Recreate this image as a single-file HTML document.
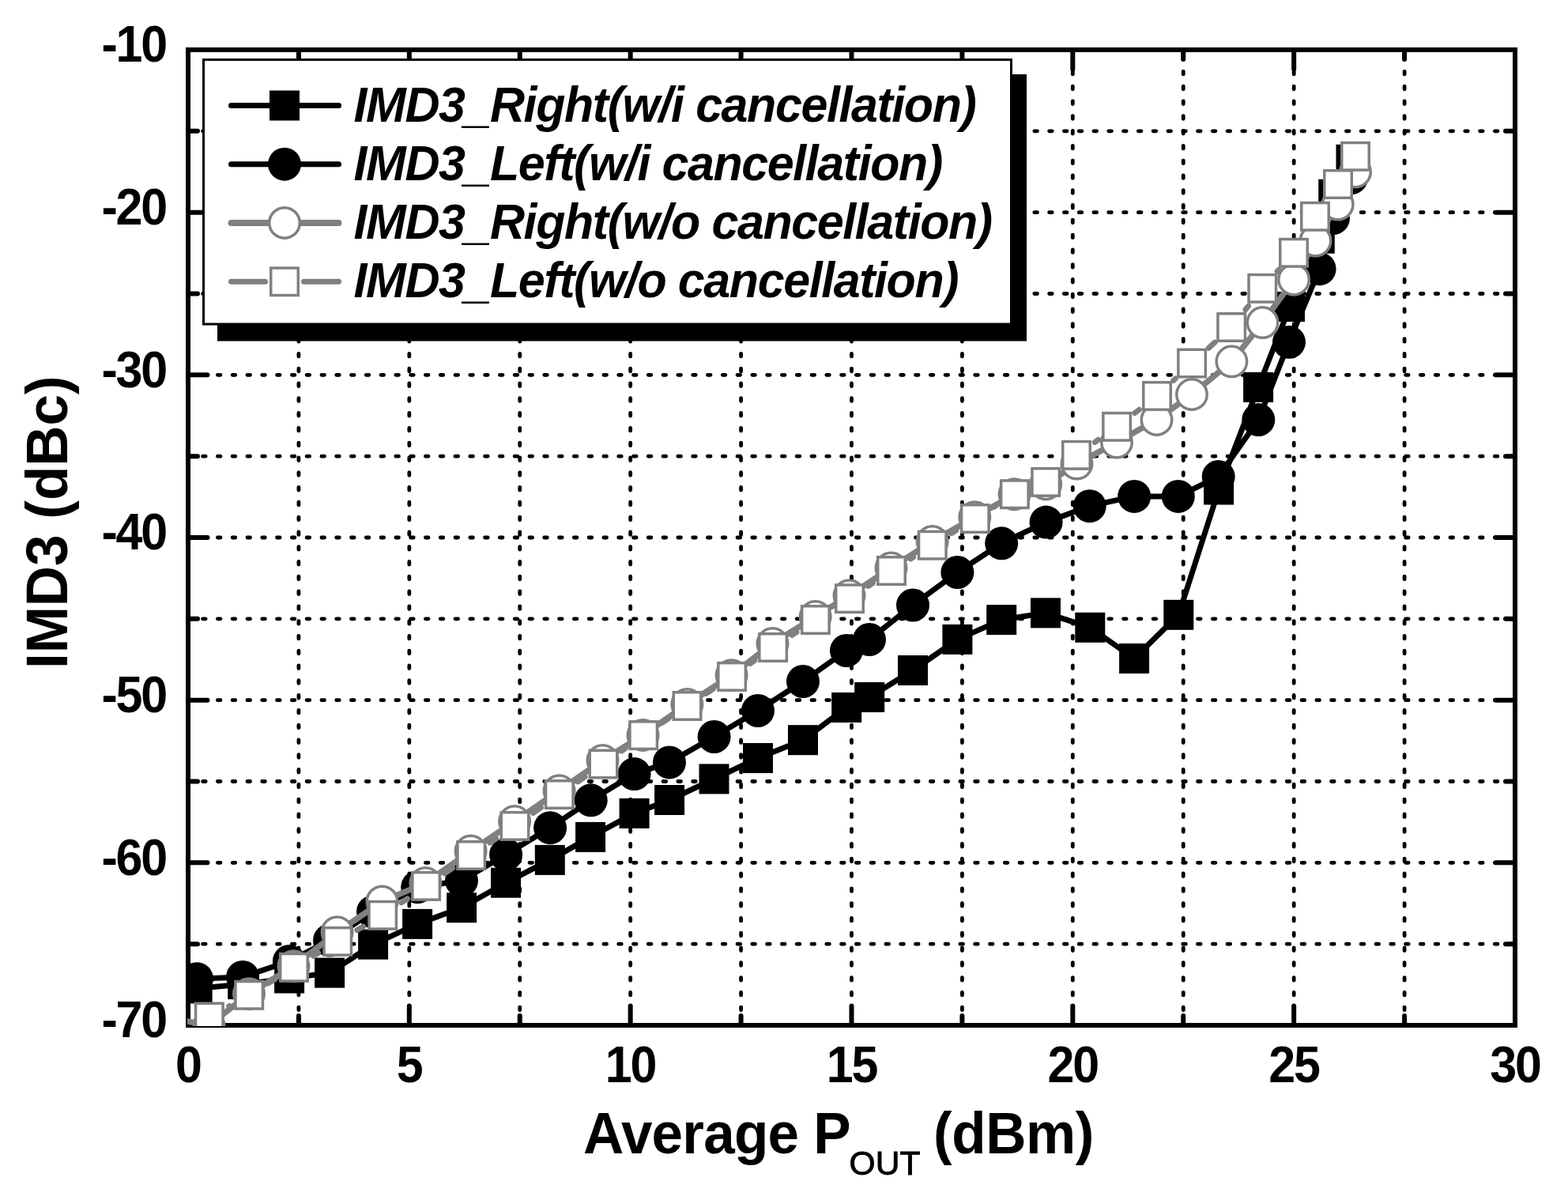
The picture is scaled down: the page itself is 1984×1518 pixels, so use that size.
<!DOCTYPE html>
<html lang="en"><head><meta charset="utf-8"><title>IMD3 vs Average POUT</title>
<style>html,body{margin:0;padding:0;background:#fff}body{width:1984px;height:1518px;overflow:hidden}svg{display:block}text{font-family:'Liberation Sans', Arial, Helvetica, sans-serif;fill:#000}</style></head><body>
<svg width="1984" height="1518" viewBox="0 0 1984 1518">
<rect x="0" y="0" width="1984" height="1518" fill="#fff"/>
<defs><clipPath id="plotclip"><rect x="237" y="62" width="1681" height="1236"/></clipPath></defs>
<g stroke="#000" stroke-width="4.8" stroke-linecap="round" stroke-dasharray="3.6 15.19" fill="none">
<line x1="377.92" y1="1296.5" x2="377.92" y2="63"/>
<line x1="517.83" y1="1296.5" x2="517.83" y2="63"/>
<line x1="657.75" y1="1296.5" x2="657.75" y2="63"/>
<line x1="797.67" y1="1296.5" x2="797.67" y2="63"/>
<line x1="937.58" y1="1296.5" x2="937.58" y2="63"/>
<line x1="1077.5" y1="1296.5" x2="1077.5" y2="63"/>
<line x1="1217.42" y1="1296.5" x2="1217.42" y2="63"/>
<line x1="1357.33" y1="1296.5" x2="1357.33" y2="63"/>
<line x1="1497.25" y1="1296.5" x2="1497.25" y2="63"/>
<line x1="1637.17" y1="1296.5" x2="1637.17" y2="63"/>
<line x1="1777.08" y1="1296.5" x2="1777.08" y2="63"/>
<line x1="237.8" y1="165.83" x2="1917" y2="165.83"/>
<line x1="237.8" y1="268.67" x2="1917" y2="268.67"/>
<line x1="237.8" y1="371.5" x2="1917" y2="371.5"/>
<line x1="237.8" y1="474.33" x2="1917" y2="474.33"/>
<line x1="237.8" y1="577.17" x2="1917" y2="577.17"/>
<line x1="237.8" y1="680" x2="1917" y2="680"/>
<line x1="237.8" y1="782.83" x2="1917" y2="782.83"/>
<line x1="237.8" y1="885.67" x2="1917" y2="885.67"/>
<line x1="237.8" y1="988.5" x2="1917" y2="988.5"/>
<line x1="237.8" y1="1091.33" x2="1917" y2="1091.33"/>
<line x1="237.8" y1="1194.17" x2="1917" y2="1194.17"/>
</g>
<g stroke="#000" stroke-width="6" stroke-linecap="round" fill="none">
<line x1="377.92" y1="1297" x2="377.92" y2="1285"/>
<line x1="377.92" y1="63" x2="377.92" y2="75"/>
<line x1="517.83" y1="1297" x2="517.83" y2="1272.5"/>
<line x1="517.83" y1="63" x2="517.83" y2="87.5"/>
<line x1="657.75" y1="1297" x2="657.75" y2="1285"/>
<line x1="657.75" y1="63" x2="657.75" y2="75"/>
<line x1="797.67" y1="1297" x2="797.67" y2="1272.5"/>
<line x1="797.67" y1="63" x2="797.67" y2="87.5"/>
<line x1="937.58" y1="1297" x2="937.58" y2="1285"/>
<line x1="937.58" y1="63" x2="937.58" y2="75"/>
<line x1="1077.5" y1="1297" x2="1077.5" y2="1272.5"/>
<line x1="1077.5" y1="63" x2="1077.5" y2="87.5"/>
<line x1="1217.42" y1="1297" x2="1217.42" y2="1285"/>
<line x1="1217.42" y1="63" x2="1217.42" y2="75"/>
<line x1="1357.33" y1="1297" x2="1357.33" y2="1272.5"/>
<line x1="1357.33" y1="63" x2="1357.33" y2="87.5"/>
<line x1="1497.25" y1="1297" x2="1497.25" y2="1285"/>
<line x1="1497.25" y1="63" x2="1497.25" y2="75"/>
<line x1="1637.17" y1="1297" x2="1637.17" y2="1272.5"/>
<line x1="1637.17" y1="63" x2="1637.17" y2="87.5"/>
<line x1="1777.08" y1="1297" x2="1777.08" y2="1285"/>
<line x1="1777.08" y1="63" x2="1777.08" y2="75"/>
<line x1="238" y1="165.83" x2="250" y2="165.83"/>
<line x1="1917" y1="165.83" x2="1905" y2="165.83"/>
<line x1="238" y1="268.67" x2="262.5" y2="268.67"/>
<line x1="1917" y1="268.67" x2="1892.5" y2="268.67"/>
<line x1="238" y1="371.5" x2="250" y2="371.5"/>
<line x1="1917" y1="371.5" x2="1905" y2="371.5"/>
<line x1="238" y1="474.33" x2="262.5" y2="474.33"/>
<line x1="1917" y1="474.33" x2="1892.5" y2="474.33"/>
<line x1="238" y1="577.17" x2="250" y2="577.17"/>
<line x1="1917" y1="577.17" x2="1905" y2="577.17"/>
<line x1="238" y1="680" x2="262.5" y2="680"/>
<line x1="1917" y1="680" x2="1892.5" y2="680"/>
<line x1="238" y1="782.83" x2="250" y2="782.83"/>
<line x1="1917" y1="782.83" x2="1905" y2="782.83"/>
<line x1="238" y1="885.67" x2="262.5" y2="885.67"/>
<line x1="1917" y1="885.67" x2="1892.5" y2="885.67"/>
<line x1="238" y1="988.5" x2="250" y2="988.5"/>
<line x1="1917" y1="988.5" x2="1905" y2="988.5"/>
<line x1="238" y1="1091.33" x2="262.5" y2="1091.33"/>
<line x1="1917" y1="1091.33" x2="1892.5" y2="1091.33"/>
<line x1="238" y1="1194.17" x2="250" y2="1194.17"/>
<line x1="1917" y1="1194.17" x2="1905" y2="1194.17"/>
</g>
<rect x="238" y="63" width="1679" height="1234" fill="none" stroke="#000" stroke-width="6"/>
<g clip-path="url(#plotclip)">
<polyline fill="none" stroke="#000" stroke-width="7" stroke-linejoin="round" stroke-linecap="round" points="249.6,1250.4 307.2,1245.1 366.1,1237.5 417.1,1230.6 472.1,1194.7 528.1,1168.9 584.1,1148.2 640.1,1116.7 695.8,1087.9 747.1,1058.9 802.6,1028.9 847.1,1012 903.5,985.4 959,959 1016,936.2 1071.2,895 1100.2,882 1155,848 1211.4,808.9 1267.2,784.1 1323,775.4 1379.3,793.8 1435.1,833 1491.3,777.8 1542.1,619.5 1592.1,489.8 1632,388 1669.8,301.7 1687.2,245.8 1709.5,201.8"/>
<g fill="#000">
<rect x="230.6" y="1231.4" width="38" height="38"/>
<rect x="288.2" y="1226.1" width="38" height="38"/>
<rect x="347.1" y="1218.5" width="38" height="38"/>
<rect x="398.1" y="1211.6" width="38" height="38"/>
<rect x="453.1" y="1175.7" width="38" height="38"/>
<rect x="509.1" y="1149.9" width="38" height="38"/>
<rect x="565.1" y="1129.2" width="38" height="38"/>
<rect x="621.1" y="1097.7" width="38" height="38"/>
<rect x="676.8" y="1068.9" width="38" height="38"/>
<rect x="728.1" y="1039.9" width="38" height="38"/>
<rect x="783.6" y="1009.9" width="38" height="38"/>
<rect x="828.1" y="993" width="38" height="38"/>
<rect x="884.5" y="966.4" width="38" height="38"/>
<rect x="940" y="940" width="38" height="38"/>
<rect x="997" y="917.2" width="38" height="38"/>
<rect x="1052.2" y="876" width="38" height="38"/>
<rect x="1081.2" y="863" width="38" height="38"/>
<rect x="1136" y="829" width="38" height="38"/>
<rect x="1192.4" y="789.9" width="38" height="38"/>
<rect x="1248.2" y="765.1" width="38" height="38"/>
<rect x="1304" y="756.4" width="38" height="38"/>
<rect x="1360.3" y="774.8" width="38" height="38"/>
<rect x="1416.1" y="814" width="38" height="38"/>
<rect x="1472.3" y="758.8" width="38" height="38"/>
<rect x="1523.1" y="600.5" width="38" height="38"/>
<rect x="1573.1" y="470.8" width="38" height="38"/>
<rect x="1613" y="369" width="38" height="38"/>
<rect x="1650.8" y="282.7" width="38" height="38"/>
<rect x="1668.2" y="226.8" width="38" height="38"/>
<rect x="1690.5" y="182.8" width="38" height="38"/>
</g>
<polyline fill="none" stroke="#000" stroke-width="7" stroke-linejoin="round" stroke-linecap="round" points="249,1238.2 307.1,1235.9 365.9,1216 417,1189.5 472,1153.3 528.2,1122.2 584,1114 640.1,1081.1 696.1,1047.2 747.7,1012.3 802.6,979.1 847,964.4 903.6,932 959,899 1016,862 1071,823 1100,809 1155,765.5 1211.4,724 1267.2,687.3 1323.6,660.6 1378.7,640.2 1435.2,627.9 1490.8,627.9 1541.7,603 1592.3,531 1631,432.8 1669.6,340.2 1687,276 1710,225"/>
<g fill="#000">
<circle cx="249" cy="1238.2" r="21"/>
<circle cx="307.1" cy="1235.9" r="21"/>
<circle cx="365.9" cy="1216" r="21"/>
<circle cx="417" cy="1189.5" r="21"/>
<circle cx="472" cy="1153.3" r="21"/>
<circle cx="528.2" cy="1122.2" r="21"/>
<circle cx="584" cy="1114" r="21"/>
<circle cx="640.1" cy="1081.1" r="21"/>
<circle cx="696.1" cy="1047.2" r="21"/>
<circle cx="747.7" cy="1012.3" r="21"/>
<circle cx="802.6" cy="979.1" r="21"/>
<circle cx="847" cy="964.4" r="21"/>
<circle cx="903.6" cy="932" r="21"/>
<circle cx="959" cy="899" r="21"/>
<circle cx="1016" cy="862" r="21"/>
<circle cx="1071" cy="823" r="21"/>
<circle cx="1100" cy="809" r="21"/>
<circle cx="1155" cy="765.5" r="21"/>
<circle cx="1211.4" cy="724" r="21"/>
<circle cx="1267.2" cy="687.3" r="21"/>
<circle cx="1323.6" cy="660.6" r="21"/>
<circle cx="1378.7" cy="640.2" r="21"/>
<circle cx="1435.2" cy="627.9" r="21"/>
<circle cx="1490.8" cy="627.9" r="21"/>
<circle cx="1541.7" cy="603" r="21"/>
<circle cx="1592.3" cy="531" r="21"/>
<circle cx="1631" cy="432.8" r="21"/>
<circle cx="1669.6" cy="340.2" r="21"/>
<circle cx="1687" cy="276" r="21"/>
<circle cx="1710" cy="225" r="21"/>
</g>
<polyline fill="none" stroke="#808080" stroke-width="7.5" stroke-linejoin="round" stroke-linecap="round" points="210,1287 264.5,1297 315,1257.2 371.5,1222.3 426.6,1179.2 483.5,1140.4 538.4,1117.1 595.6,1076.5 651.1,1039.1 707.6,1000.2 762.5,961.9 813.5,930 869.4,890.9 925.6,854.2 977.5,814 1031.7,780.1 1074.5,753.3 1127.5,718.4 1179.7,684.9 1233.3,654.2 1283.6,625.2 1323.2,612.5 1362.5,586.6 1413,559.6 1463.5,531 1508,499 1558.4,457.3 1597.5,408.1 1637.1,353.7 1664.5,304.6 1692.7,258.6 1715,217.5"/>
<g fill="#fff" stroke="#808080" stroke-width="3.5">
<circle cx="264.5" cy="1297" r="19.25"/>
<circle cx="315" cy="1257.2" r="19.25"/>
<circle cx="371.5" cy="1222.3" r="19.25"/>
<circle cx="426.6" cy="1179.2" r="19.25"/>
<circle cx="483.5" cy="1140.4" r="19.25"/>
<circle cx="538.4" cy="1117.1" r="19.25"/>
<circle cx="595.6" cy="1076.5" r="19.25"/>
<circle cx="651.1" cy="1039.1" r="19.25"/>
<circle cx="707.6" cy="1000.2" r="19.25"/>
<circle cx="762.5" cy="961.9" r="19.25"/>
<circle cx="813.5" cy="930" r="19.25"/>
<circle cx="869.4" cy="890.9" r="19.25"/>
<circle cx="925.6" cy="854.2" r="19.25"/>
<circle cx="977.5" cy="814" r="19.25"/>
<circle cx="1031.7" cy="780.1" r="19.25"/>
<circle cx="1074.5" cy="753.3" r="19.25"/>
<circle cx="1127.5" cy="718.4" r="19.25"/>
<circle cx="1179.7" cy="684.9" r="19.25"/>
<circle cx="1233.3" cy="654.2" r="19.25"/>
<circle cx="1283.6" cy="625.2" r="19.25"/>
<circle cx="1323.2" cy="612.5" r="19.25"/>
<circle cx="1362.5" cy="586.6" r="19.25"/>
<circle cx="1413" cy="559.6" r="19.25"/>
<circle cx="1463.5" cy="531" r="19.25"/>
<circle cx="1508" cy="499" r="19.25"/>
<circle cx="1558.4" cy="457.3" r="19.25"/>
<circle cx="1597.5" cy="408.1" r="19.25"/>
<circle cx="1637.1" cy="353.7" r="19.25"/>
<circle cx="1664.5" cy="304.6" r="19.25"/>
<circle cx="1692.7" cy="258.6" r="19.25"/>
<circle cx="1715" cy="217.5" r="19.25"/>
</g>
<g stroke="#808080" stroke-width="7" stroke-linecap="round" fill="none">
<line x1="289.78" y1="1272.77" x2="290.22" y2="1272.53"/>
<line x1="339.46" y1="1243.85" x2="347.74" y2="1238.75"/>
<line x1="396.48" y1="1209.21" x2="402.72" y2="1205.49"/>
<line x1="451.85" y1="1176.59" x2="459.55" y2="1172.11"/>
<line x1="507.85" y1="1141.9" x2="515.45" y2="1136.8"/>
<line x1="562.65" y1="1104.85" x2="572.65" y2="1098.05"/>
<line x1="619.87" y1="1066.12" x2="627.83" y2="1060.78"/>
<line x1="674.75" y1="1028.42" x2="684.55" y2="1021.48"/>
<line x1="731.24" y1="988.8" x2="740.06" y2="982.7"/>
<line x1="786.65" y1="949.88" x2="791.05" y2="946.72"/>
<line x1="837.87" y1="914.22" x2="845.83" y2="908.88"/>
<line x1="893.34" y1="877.38" x2="902.26" y2="871.52"/>
<line x1="949.34" y1="839.41" x2="954.86" y2="835.49"/>
<line x1="1001.99" y1="803.46" x2="1008.01" y2="799.54"/>
<line x1="1098.74" y1="741.43" x2="1104.26" y2="737.77"/>
<line x1="1152.18" y1="706.92" x2="1155.62" y2="704.78"/>
<line x1="1203.98" y1="674.61" x2="1209.62" y2="671.09"/>
<line x1="1258.08" y1="641.07" x2="1259.62" y2="640.13"/>
<line x1="1385.3" y1="559.39" x2="1389.8" y2="556.21"/>
<line x1="1435.74" y1="522.49" x2="1441.36" y2="518.21"/>
<line x1="1484.78" y1="481.39" x2="1487.32" y2="479.01"/>
<line x1="1529.2" y1="440.34" x2="1537.1" y2="433.16"/>
<line x1="1575.93" y1="391.69" x2="1579.57" y2="387.11"/>
<line x1="1616.15" y1="343.43" x2="1618.15" y2="341.17"/>
</g>
<g fill="#fff" stroke="#808080" stroke-width="3.5">
<rect x="247.55" y="1269.25" width="34.5" height="34.5"/>
<rect x="297.95" y="1241.55" width="34.5" height="34.5"/>
<rect x="354.75" y="1206.55" width="34.5" height="34.5"/>
<rect x="409.95" y="1173.65" width="34.5" height="34.5"/>
<rect x="466.95" y="1140.55" width="34.5" height="34.5"/>
<rect x="521.85" y="1103.65" width="34.5" height="34.5"/>
<rect x="578.95" y="1064.75" width="34.5" height="34.5"/>
<rect x="634.25" y="1027.65" width="34.5" height="34.5"/>
<rect x="690.55" y="987.75" width="34.5" height="34.5"/>
<rect x="746.25" y="949.25" width="34.5" height="34.5"/>
<rect x="796.95" y="912.85" width="34.5" height="34.5"/>
<rect x="852.25" y="875.75" width="34.5" height="34.5"/>
<rect x="908.85" y="838.65" width="34.5" height="34.5"/>
<rect x="960.85" y="801.75" width="34.5" height="34.5"/>
<rect x="1014.65" y="766.75" width="34.5" height="34.5"/>
<rect x="1057.75" y="739.95" width="34.5" height="34.5"/>
<rect x="1110.75" y="704.75" width="34.5" height="34.5"/>
<rect x="1162.55" y="672.45" width="34.5" height="34.5"/>
<rect x="1216.55" y="638.75" width="34.5" height="34.5"/>
<rect x="1266.65" y="607.95" width="34.5" height="34.5"/>
<rect x="1305.95" y="592.65" width="34.5" height="34.5"/>
<rect x="1344.75" y="558.55" width="34.5" height="34.5"/>
<rect x="1395.85" y="522.55" width="34.5" height="34.5"/>
<rect x="1446.75" y="483.65" width="34.5" height="34.5"/>
<rect x="1490.85" y="442.25" width="34.5" height="34.5"/>
<rect x="1540.95" y="396.75" width="34.5" height="34.5"/>
<rect x="1580.05" y="347.55" width="34.5" height="34.5"/>
<rect x="1619.75" y="302.55" width="34.5" height="34.5"/>
<rect x="1646.75" y="256.55" width="34.5" height="34.5"/>
<rect x="1675.75" y="215.75" width="34.5" height="34.5"/>
<rect x="1697.75" y="180.55" width="34.5" height="34.5"/>
</g>
</g>
<rect x="275" y="94" width="1024" height="337.5" fill="#000"/>
<rect x="257.5" y="75.5" width="1022" height="334.5" fill="#fff" stroke="#000" stroke-width="3"/>
<line x1="292.5" y1="133.5" x2="428.5" y2="133.5" stroke="#000" stroke-width="7" stroke-linecap="round"/>
<rect x="341" y="114.5" width="38" height="38" fill="#000"/>
<line x1="292.5" y1="207.7" x2="428.5" y2="207.7" stroke="#000" stroke-width="7" stroke-linecap="round"/>
<circle cx="360" cy="207.7" r="21" fill="#000"/>
<line x1="292.5" y1="281.9" x2="428.5" y2="281.9" stroke="#808080" stroke-width="8" stroke-linecap="round"/>
<circle cx="360" cy="281.9" r="19.25" fill="#fff" stroke="#808080" stroke-width="3.5"/>
<line x1="292.5" y1="356.3" x2="335.5" y2="356.3" stroke="#808080" stroke-width="7" stroke-linecap="round"/>
<line x1="384.5" y1="356.3" x2="428.5" y2="356.3" stroke="#808080" stroke-width="7" stroke-linecap="round"/>
<rect x="342.75" y="339.05" width="34.5" height="34.5" fill="#fff" stroke="#808080" stroke-width="3.5"/>
<text transform="translate(447.5,153.8) scale(1,1.02)" font-size="61" font-weight="bold" font-style="italic" letter-spacing="-1.43">IMD3_Right(w/i cancellation)</text>
<text transform="translate(447.5,228) scale(1,1.02)" font-size="61" font-weight="bold" font-style="italic" letter-spacing="-1.43">IMD3_Left(w/i cancellation)</text>
<text transform="translate(447.5,302.2) scale(1,1.02)" font-size="61" font-weight="bold" font-style="italic" letter-spacing="-1.43">IMD3_Right(w/o cancellation)</text>
<text transform="translate(447.5,376.4) scale(1,1.02)" font-size="61" font-weight="bold" font-style="italic" letter-spacing="-1.43">IMD3_Left(w/o cancellation)</text>
<text transform="translate(128.5,78.3) scale(1,1.07)" font-size="61" font-weight="bold" letter-spacing="-2.2">-10</text>
<text transform="translate(128.5,283.97) scale(1,1.07)" font-size="61" font-weight="bold" letter-spacing="-2.2">-20</text>
<text transform="translate(128.5,489.63) scale(1,1.07)" font-size="61" font-weight="bold" letter-spacing="-2.2">-30</text>
<text transform="translate(128.5,695.3) scale(1,1.07)" font-size="61" font-weight="bold" letter-spacing="-2.2">-40</text>
<text transform="translate(128.5,900.97) scale(1,1.07)" font-size="61" font-weight="bold" letter-spacing="-2.2">-50</text>
<text transform="translate(128.5,1106.63) scale(1,1.07)" font-size="61" font-weight="bold" letter-spacing="-2.2">-60</text>
<text transform="translate(128.5,1312.3) scale(1,1.07)" font-size="61" font-weight="bold" letter-spacing="-2.2">-70</text>
<text transform="translate(222.04,1368.5) scale(1,1.07)" font-size="61" font-weight="bold" letter-spacing="-2.2">0</text>
<text transform="translate(501.87,1368.5) scale(1,1.07)" font-size="61" font-weight="bold" letter-spacing="-2.2">5</text>
<text transform="translate(765.84,1368.5) scale(1,1.07)" font-size="61" font-weight="bold" letter-spacing="-2.2">10</text>
<text transform="translate(1045.67,1368.5) scale(1,1.07)" font-size="61" font-weight="bold" letter-spacing="-2.2">15</text>
<text transform="translate(1325.51,1368.5) scale(1,1.07)" font-size="61" font-weight="bold" letter-spacing="-2.2">20</text>
<text transform="translate(1605.34,1368.5) scale(1,1.07)" font-size="61" font-weight="bold" letter-spacing="-2.2">25</text>
<text transform="translate(1885.17,1368.5) scale(1,1.07)" font-size="61" font-weight="bold" letter-spacing="-2.2">30</text>
<text transform="translate(738,1458.8) scale(1,1.04)" font-size="71" font-weight="bold" letter-spacing="-0.75">Average P</text>
<text transform="translate(1074.5,1485.5)" font-size="42.6" font-weight="normal" stroke="#000" stroke-width="0.9">OUT</text>
<text transform="translate(1181,1458.8) scale(1,1.04)" font-size="71" font-weight="bold" letter-spacing="-0.4">(dBm)</text>
<text transform="translate(85.3,846) rotate(-90) scale(1,1.04)" font-size="71" font-weight="bold">IMD3 (dBc)</text>
</svg></body></html>
